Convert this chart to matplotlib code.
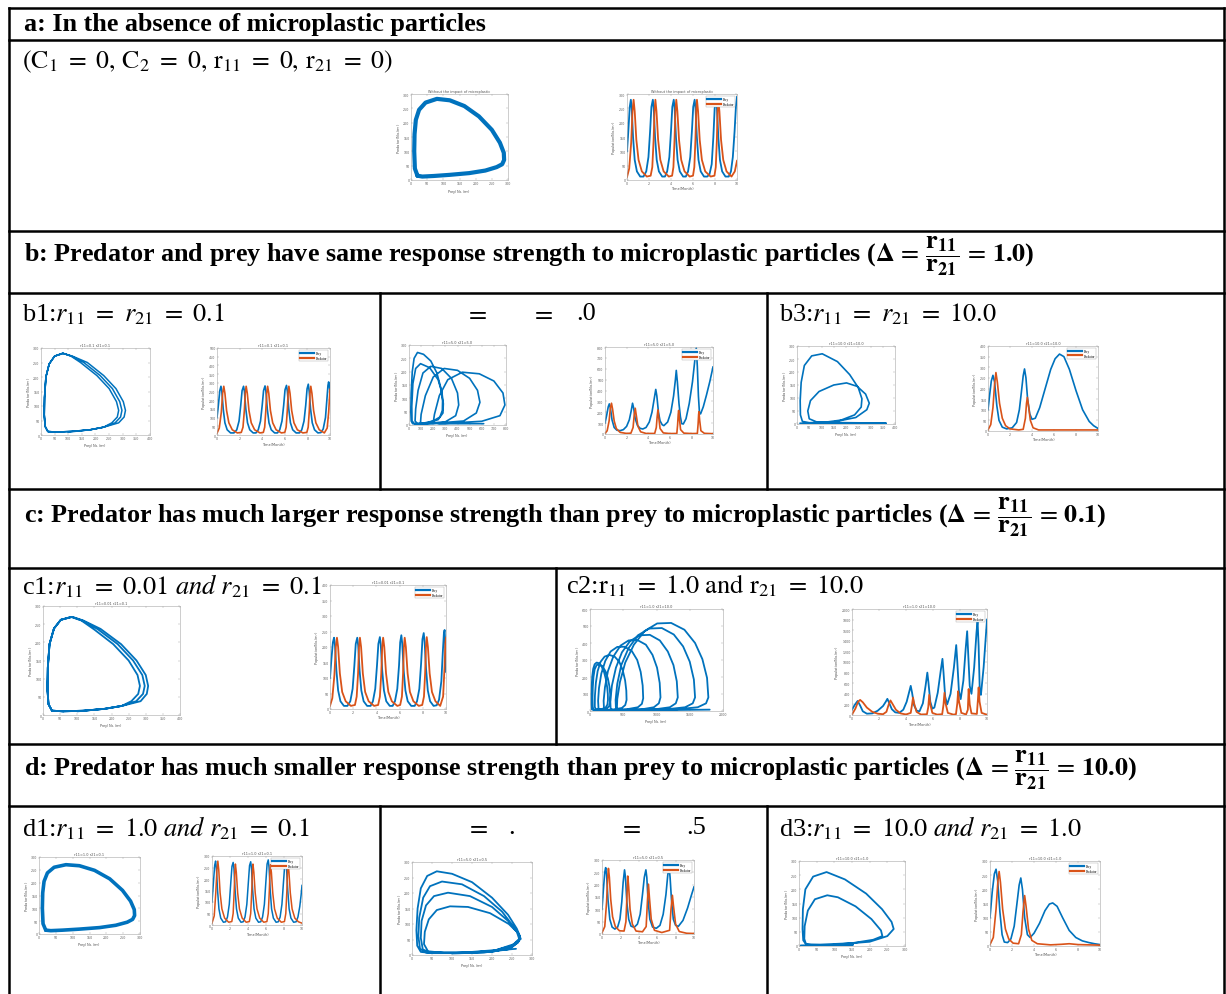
import numpy as np
import matplotlib
matplotlib.use("Agg")
import matplotlib.pyplot as plt
from matplotlib.lines import Line2D

plt.rcParams['mathtext.fontset'] = 'stix'
plt.rcParams['font.family'] = ['Liberation Serif', 'DejaVu Serif']

BLUE = '#0072BD'
ORANGE = '#D95319'

# ---------------- data ----------------
# a: no microplastics
a_phase = [(20,15),(12,40),(10,100),(11,160),(15,210),(25,245),(45,270),(80,283),(120,278),(165,258),
           (210,222),(250,175),(275,130),(287,95),(288,70),(282,55),(265,45),(230,33),(180,24),(120,18),
           (70,14),(35,12),(20,15)]
a_prey = [(0,100),(0.12,170),(0.25,255),(0.35,280),(0.43,250),(0.55,150),(0.7,70),(0.9,30),(1.2,12),(1.5,12),
          (1.75,30),(1.95,80),(2.1,170),(2.22,255),(2.35,280),(2.43,250),(2.55,150),(2.7,70),(2.9,30),(3.2,12),
          (3.45,12),(3.65,30),(3.85,80),(4.0,170),(4.12,255),(4.25,280),(4.33,250),(4.45,150),(4.6,70),(4.8,30),
          (5.1,12),(5.35,12),(5.55,30),(5.75,80),(5.9,170),(6.02,255),(6.15,280),(6.23,250),(6.35,150),(6.5,70),
          (6.7,30),(7.0,12),(7.3,12),(7.5,20),(7.7,55),(7.85,150),(7.97,250),(8.1,280),(8.18,250),(8.3,150),
          (8.45,70),(8.65,30),(8.95,12),(9.25,12),(9.45,30),(9.62,80),(9.78,170),(9.9,255),(10,290)]
a_pred = [(0,10),(0.2,40),(0.38,130),(0.5,240),(0.6,280),(0.7,240),(0.85,140),(1.05,70),(1.35,30),(1.8,12),
          (2.15,15),(2.3,45),(2.42,140),(2.5,240),(2.58,280),(2.68,240),(2.83,140),(3.03,70),(3.33,30),(3.8,12),
          (4.1,15),(4.22,45),(4.32,140),(4.4,240),(4.48,280),(4.58,240),(4.73,140),(4.93,70),(5.23,30),(5.7,12),
          (6.0,15),(6.12,45),(6.22,140),(6.29,240),(6.36,280),(6.46,240),(6.61,140),(6.81,70),(7.11,30),(7.6,12),
          (7.95,15),(8.07,45),(8.17,140),(8.23,240),(8.3,280),(8.4,240),(8.55,140),(8.75,70),(9.05,30),(9.5,12),
          (9.8,30),(10,67)]

# b1: r11 = r21 = 0.1
b1_phase = [(100,10),(180,18),(230,27),(260,42),(280,62),(285,85),(277,115),(250,160),(205,205),(145,250),
            (110,272),(80,282),(50,272),(30,245),(18,200),(13,130),(12,70),(15,30),(25,12),(60,10),
            (120,13),(180,18),(230,27),(272,42),(292,62),(297,85),(289,115),(262,160),(217,205),(157,250),
            (112,272),(80,282),(50,272),(30,245),(18,200),(13,130),(12,70),(15,30),(25,12),(60,10),
            (120,13),(180,18),(230,27),(285,42),(305,62),(310,85),(302,115),(275,160),(230,205),(170,250),
            (115,272),(82,281),(50,272),(30,245),(18,200),(13,130),(12,70),(15,30),(25,12),(60,10)]
b1_prey = [(0,100),(0.12,170),(0.25,255),(0.35,280),(0.43,250),(0.55,150),(0.7,70),(0.9,30),(1.2,12),(1.5,12),
           (1.75,30),(1.95,80),(2.1,170),(2.22,255),(2.35,280),(2.43,250),(2.55,150),(2.7,70),(2.9,30),(3.2,12),
           (3.45,12),(3.65,30),(3.85,80),(4.0,170),(4.12,255),(4.25,282),(4.33,250),(4.45,150),(4.6,70),(4.8,30),
           (5.1,12),(5.35,12),(5.55,30),(5.75,80),(5.9,170),(6.02,260),(6.15,285),(6.23,250),(6.35,150),(6.5,70),
           (6.7,30),(7.0,12),(7.3,12),(7.5,30),(7.7,80),(7.85,170),(7.97,265),(8.08,292),(8.16,250),(8.28,150),
           (8.43,70),(8.63,30),(8.93,12),(9.2,14),(9.4,35),(9.6,100),(9.72,200),(9.82,285),(9.88,305),(9.95,280),
           (10,250)]
b1_pred = [(0,10),(0.2,40),(0.38,130),(0.5,240),(0.6,280),(0.7,240),(0.85,140),(1.05,70),(1.35,30),(1.8,12),
           (2.15,15),(2.3,45),(2.42,140),(2.5,240),(2.58,280),(2.68,240),(2.83,140),(3.03,70),(3.33,30),(3.8,12),
           (4.1,15),(4.22,45),(4.32,140),(4.4,240),(4.48,280),(4.58,240),(4.73,140),(4.93,70),(5.23,30),(5.7,12),
           (6.0,15),(6.12,45),(6.22,140),(6.29,240),(6.36,280),(6.46,240),(6.61,140),(6.81,70),(7.11,30),(7.6,12),
           (7.95,15),(8.07,45),(8.17,140),(8.23,240),(8.3,280),(8.4,240),(8.55,140),(8.75,70),(9.05,30),(9.5,12),
           (9.75,40),(9.88,130),(10,262)]

# b2: r11 = r21 = 5.0
b2_phase = [(100,5),(200,15),(255,30),(275,55),(277,90),(262,140),(230,195),(180,240),(120,265),(70,272),
            (42,250),(27,200),(18,120),(15,50),(18,15),(30,5),(60,4),(150,8),(240,20),(280,45),
            (283,80),(272,120),(240,170),(170,215),(95,230),(55,212),(32,155),(23,70),(25,15),(45,5),
            (150,6),(300,12),(385,35),(410,75),(400,120),(350,175),(270,212),(180,220),(115,195),(75,130),
            (55,60),(50,15),(70,5),(200,6),(450,15),(555,45),(585,85),(565,130),(500,175),(400,205),
            (290,212),(200,180),(135,110),(100,40),(95,10),(120,5),(300,6),(600,14),(750,35),(791,75),
            (775,120),(700,165),(580,192),(440,198),(320,170),(250,110),(210,40),(200,10),(250,5),(450,5),
            (616,5)]
b2_prey = [(0,100),(0.15,170),(0.3,250),(0.4,277),(0.5,240),(0.65,130),(0.85,60),(1.1,35),(1.4,31),(1.7,40),
           (2.0,70),(2.25,130),(2.42,210),(2.55,283),(2.65,240),(2.8,140),(3.0,80),(3.25,52),(3.5,46),(3.8,60),
           (4.1,110),(4.35,200),(4.55,320),(4.7,410),(4.8,350),(4.95,200),(5.1,120),(5.3,85),(5.45,77),(5.8,110),
           (6.1,200),(6.35,350),(6.52,500),(6.6,585),(6.7,480),(6.85,280),(6.98,160),(7.1,95),(7.25,92),(7.5,140),
           (7.8,280),(8.1,480),(8.32,680),(8.45,791),(8.55,620),(8.65,350),(8.75,190),(8.85,185),(9.1,250),
           (9.4,360),(9.7,480),(10,616)]
b2_pred = [(0,5),(0.2,30),(0.38,120),(0.5,240),(0.6,283),(0.7,230),(0.85,120),(1.05,50),(1.4,15),(2.0,5),
           (2.4,8),(2.6,60),(2.7,170),(2.8,237),(2.9,170),(3.05,70),(3.3,20),(3.8,5),(4.6,5),(4.75,60),
           (4.83,160),(4.9,222),(4.98,150),(5.1,50),(5.4,10),(6.0,4),(6.65,5),(6.72,80),(6.78,180),(6.82,217),
           (6.88,150),(7.0,40),(7.3,8),(8.0,4),(8.55,5),(8.62,90),(8.67,180),(8.7,205),(8.76,130),(8.88,30),
           (9.2,6),(10,3)]

# b3: r11 = r21 = 10.0
b3_phase = [(100,5),(180,15),(235,35),(262,65),(265,97),(250,140),(215,190),(165,240),(103,270),(60,262),
            (30,225),(17,160),(13,90),(14,35),(22,10),(50,5),(150,8),(240,25),(285,55),(295,80),
            (280,115),(245,145),(202,158),(150,150),(90,125),(55,90),(44,50),(50,20),(80,8),(110,6),
            (200,5),(300,4),(364,3),(300,3),(200,3),(100,3),(30,3),(12,3)]
b3_prey = [(0,100),(0.15,170),(0.3,235),(0.45,262),(0.6,230),(0.8,120),(1.0,50),(1.3,18),(1.7,10),(2.2,15),
           (2.6,40),(2.85,100),(3.05,190),(3.2,260),(3.32,292),(3.45,250),(3.6,150),(3.8,80),(4.0,55),(4.3,60),
           (4.7,110),(5.2,200),(5.7,290),(6.1,340),(6.5,362),(6.9,350),(7.4,290),(8.0,190),(8.6,100),(9.2,45),
           (9.6,25),(10,12)]
b3_pred = [(0,5),(0.25,30),(0.45,110),(0.6,220),(0.72,275),(0.85,230),(1.05,130),(1.3,60),(1.6,25),(2.0,10),
           (2.8,5),(3.2,8),(3.4,60),(3.5,130),(3.58,158),(3.68,120),(3.85,50),(4.1,15),(4.6,5),(10,5)]

# c1: r11 = 0.01, r21 = 0.1
c1_phase = [(100,10),(180,17),(230,25),(258,38),(278,58),(283,80),(276,110),(250,150),(205,195),(150,235),
            (112,260),(82,270),(52,262),(32,238),(19,195),(14,130),(13,70),(16,30),(26,12),(60,10),
            (120,12),(180,17),(230,25),(272,38),(292,58),(297,80),(290,110),(263,150),(218,195),(160,236),
            (115,260),(84,270),(52,262),(32,238),(19,195),(14,130),(13,70),(16,30),(26,12),(60,10),
            (120,12),(180,17),(230,25),(285,38),(303,58),(307,80),(300,110),(273,150),(228,195),(168,237),
            (118,260),(86,270),(52,262),(32,238),(19,195),(14,130),(13,70),(16,30),(26,12),(60,10)]
c1_prey = [(0,100),(0.12,160),(0.25,215),(0.35,230),(0.43,205),(0.55,125),(0.7,60),(0.9,25),(1.2,10),(1.5,10),
           (1.75,25),(1.95,65),(2.1,140),(2.22,210),(2.35,230),(2.43,205),(2.55,125),(2.7,60),(2.9,25),(3.2,10),
           (3.5,10),(3.7,25),(3.9,65),(4.05,140),(4.17,210),(4.3,232),(4.38,205),(4.5,125),(4.65,60),(4.85,25),
           (5.15,10),(5.4,10),(5.6,25),(5.8,65),(5.95,140),(6.05,215),(6.15,238),(6.23,210),(6.35,125),(6.5,60),
           (6.7,25),(7.0,10),(7.3,10),(7.5,25),(7.7,65),(7.85,145),(7.97,225),(8.08,245),(8.16,215),(8.28,130),
           (8.43,60),(8.63,25),(8.93,10),(9.2,12),(9.4,30),(9.6,90),(9.72,180),(9.82,245),(9.88,255),(9.95,200),
           (10,120)]
c1_pred = [(0,10),(0.2,35),(0.38,110),(0.5,200),(0.6,230),(0.7,200),(0.85,115),(1.05,55),(1.35,25),(1.8,10),
           (2.15,13),(2.3,40),(2.42,115),(2.5,200),(2.58,230),(2.68,200),(2.83,115),(3.03,55),(3.33,25),(3.8,10),
           (4.15,13),(4.3,40),(4.42,115),(4.5,200),(4.58,230),(4.68,200),(4.83,115),(5.03,55),(5.33,25),(5.8,10),
           (6.05,13),(6.2,40),(6.3,115),(6.37,200),(6.44,230),(6.54,200),(6.69,115),(6.89,55),(7.19,25),(7.65,10),
           (7.95,13),(8.1,40),(8.2,115),(8.27,200),(8.34,232),(8.44,200),(8.59,115),(8.79,55),(9.09,25),(9.5,10),
           (9.75,40),(9.88,140),(9.95,215),(10,230)]

# c2: r11 = 1.0, r21 = 10.0 (eight growing arches)
c2_phase = [(100,10),(180,12),(235,20),(262,38),(270,65),(268,100),(258,140),(240,185),(212,228),(175,262),
            (135,281),(100,285),(70,275),(48,248),(34,205),(26,150),(22,90),(22,40),(28,10),
            (60,5),(160,6),(250,12),(290,30),(305,60),(303,100),(292,145),(270,190),(235,232),(190,262),
            (140,275),(100,270),(70,245),(52,200),(42,140),(38,80),(40,25),(55,6),
            (150,5),(350,8),(480,18),(530,35),(550,65),(546,120),(528,180),(492,240),(440,290),(370,320),
            (290,330),(220,320),(160,290),(115,235),(88,165),(74,90),(72,25),(90,6),
            (250,6),(550,10),(720,22),(780,42),(800,75),(792,150),(762,230),(710,300),(630,352),(520,378),
            (410,377),(310,350),(230,295),(170,220),(135,135),(122,60),(128,15),(160,6),
            (400,6),(780,10),(960,22),(1035,45),(1060,80),(1048,165),(1008,255),(940,330),(840,390),(710,418),
            (580,415),(460,385),(350,320),(270,235),(225,140),(205,60),(210,15),(240,6),
            (550,6),(980,10),(1200,22),(1290,45),(1320,80),(1305,175),(1255,270),(1170,350),(1050,415),(900,448),
            (740,445),(600,410),(480,345),(390,255),(330,150),(305,60),(310,15),(340,6),
            (650,6),(1150,10),(1430,22),(1545,45),(1580,80),(1562,185),(1500,290),(1400,380),(1260,450),(1080,488),
            (890,485),(720,445),(580,370),(470,270),(410,160),(385,65),(390,15),(420,6),
            (750,6),(1300,10),(1620,22),(1745,45),(1780,80),(1760,195),(1690,305),(1580,400),(1420,478),(1220,518),
            (1010,515),(820,470),(660,390),(530,285),(450,170),(410,70),(405,18),(430,6),
            (800,5),(1300,6),(1800,8)]
c2_prey = [(0,100),(0.2,190),(0.42,265),(0.6,180),(0.8,70),(1.1,25),(1.5,30),(1.9,80),(2.3,170),(2.5,250),
           (2.62,305),(2.75,230),(2.95,110),(3.2,50),(3.5,40),(3.8,100),(4.05,250),(4.25,450),(4.35,550),(4.45,420),
           (4.6,180),(4.8,80),(5.0,70),(5.25,220),(5.45,550),(5.58,800),(5.66,620),(5.8,250),(5.95,120),(6.1,140),
           (6.35,420),(6.58,850),(6.7,1060),(6.78,800),(6.9,350),(7.05,200),(7.3,400),(7.55,900),(7.72,1320),(7.8,1000),
           (7.92,450),(8.05,300),(8.25,650),(8.42,1250),(8.53,1580),(8.6,1200),(8.72,550),(8.85,400),(9.05,900),
           (9.22,1550),(9.3,1780),(9.38,1300),(9.47,400),(9.55,380),(9.75,900),(10,1800)]
c2_pred = [(0,10),(0.25,120),(0.45,250),(0.6,285),(0.8,240),(1.1,140),(1.5,60),(1.9,25),(2.3,15),(2.55,60),
           (2.72,200),(2.85,275),(3.0,210),(3.25,100),(3.6,30),(4.0,10),(4.35,40),(4.45,200),(4.52,330),(4.6,220),
           (4.78,60),(5.1,10),(5.55,15),(5.65,150),(5.72,380),(5.8,200),(5.95,40),(6.3,8),(6.68,15),(6.78,200),
           (6.85,420),(6.93,220),(7.1,40),(7.5,8),(7.7,15),(7.8,220),(7.86,450),(7.93,250),(8.1,40),(8.45,10),
           (8.58,100),(8.64,490),(8.72,200),(8.85,30),(9.25,20),(9.33,300),(9.38,520),(9.45,250),(9.6,40),(10,5)]

# d1: r11 = 1.0, r21 = 0.1
d1_phase = [(20,15),(12,40),(10,100),(11,160),(15,205),(25,238),(45,260),(80,270),(120,266),(165,248),
            (210,215),(248,170),(272,128),(283,95),(284,72),(278,57),(262,46),(228,34),(180,25),(120,19),
            (70,15),(35,13),(20,15)]
d1_prey = [(0,100),(0.15,180),(0.3,260),(0.4,278),(0.49,245),(0.62,150),(0.77,70),(0.97,30),(1.27,12),(1.52,14),
           (1.72,35),(1.92,90),(2.08,180),(2.22,255),(2.35,272),(2.44,245),(2.57,150),(2.72,70),(2.92,30),(3.22,12),
           (3.47,14),(3.67,35),(3.87,90),(4.03,180),(4.17,258),(4.3,275),(4.39,245),(4.52,150),(4.67,70),(4.87,30),
           (5.17,12),(5.42,14),(5.62,35),(5.82,90),(5.98,185),(6.12,265),(6.25,283),(6.34,250),(6.47,150),(6.62,70),
           (6.82,30),(7.12,12),(7.37,14),(7.57,35),(7.77,90),(7.93,180),(8.07,255),(8.2,270),(8.29,240),(8.42,150),
           (8.57,70),(8.77,30),(9.07,12),(9.35,14),(9.55,35),(9.75,80),(9.9,130),(10,172)]
d1_pred = [(0,8),(0.25,40),(0.42,140),(0.55,240),(0.65,278),(0.75,240),(0.9,140),(1.1,70),(1.4,30),(1.85,12),
           (2.2,15),(2.35,50),(2.47,150),(2.54,235),(2.6,265),(2.7,230),(2.85,140),(3.05,70),(3.35,30),(3.8,12),
           (4.15,15),(4.3,50),(4.42,150),(4.49,235),(4.55,265),(4.65,230),(4.8,140),(5.0,70),(5.3,30),(5.75,12),
           (6.1,15),(6.25,50),(6.37,150),(6.44,232),(6.5,262),(6.6,228),(6.75,140),(6.95,70),(7.25,30),(7.7,12),
           (8.05,15),(8.2,50),(8.32,150),(8.39,238),(8.45,268),(8.55,230),(8.7,140),(8.9,70),(9.2,30),(9.6,14),
           (10,8)]

# d2: r11 = 5.0, r21 = 0.5
d2_phase = [(100,5),(180,8),(240,18),(265,40),(270,60),(262,85),(240,130),(200,185),(150,235),(100,262),
            (62,270),(38,255),(22,215),(14,150),(11,80),(13,30),(22,10),(50,6),(120,6),(200,10),
            (250,25),(268,45),(268,65),(255,90),(225,140),(180,190),(125,228),(75,237),(45,222),(28,185),
            (18,120),(16,60),(20,20),(35,8),(110,7),(200,12),(250,30),(268,52),(262,75),(240,110),
            (200,155),(145,190),(90,201),(55,190),(35,160),(24,110),(22,55),(27,18),(45,8),(130,8),
            (210,16),(255,35),(272,52),(266,70),(242,100),(195,135),(140,155),(95,157),(62,145),(42,115),
            (32,75),(30,35),(40,12),(80,7),(150,8),(260,20)]
d2_prey = [(0,100),(0.15,180),(0.3,250),(0.4,269),(0.5,240),(0.65,140),(0.85,60),(1.1,28),(1.4,20),(1.7,28),
           (1.95,60),(2.15,130),(2.3,210),(2.45,260),(2.55,230),(2.7,130),(2.9,60),(3.15,32),(3.5,27),(3.85,40),
           (4.15,80),(4.4,160),(4.6,230),(4.77,260),(4.87,230),(5.0,140),(5.2,60),(5.5,28),(5.9,23),(6.3,35),
           (6.65,80),(6.95,160),(7.15,240),(7.3,269),(7.4,230),(7.55,140),(7.75,60),(8.0,35),(8.3,31),(8.8,55),
           (9.3,105),(9.7,155),(10,191)]
d2_pred = [(0,5),(0.3,30),(0.5,130),(0.62,230),(0.7,266),(0.8,230),(0.95,140),(1.15,70),(1.45,30),(1.9,13),
           (2.4,12),(2.6,50),(2.72,160),(2.8,235),(2.9,190),(3.05,100),(3.3,40),(3.7,12),(4.4,9),(4.8,30),
           (4.95,140),(5.05,202),(5.15,150),(5.35,60),(5.7,15),(6.5,6),(7.35,15),(7.5,100),(7.65,157),(7.78,110),
           (8.0,40),(8.4,10),(9.2,3),(10,2)]

# d3: r11 = 10.0, r21 = 1.0
d3_phase = [(100,5),(200,15),(250,35),(268,60),(262,85),(235,130),(190,185),(130,235),(78,261),(40,245),
            (18,200),(11,130),(10,60),(12,20),(20,6),(60,5),(150,10),(210,22),(236,35),(232,55),
            (205,95),(160,140),(110,172),(80,179),(45,165),(25,125),(16,70),(15,25),(20,6),(40,3),
            (100,4),(153,5),(100,4),(40,3),(5,2)]
d3_prey = [(0,100),(0.2,190),(0.4,255),(0.55,271),(0.7,230),(0.9,120),(1.1,40),(1.3,14),(1.6,12),(1.9,25),
           (2.2,70),(2.45,150),(2.65,215),(2.8,240),(2.95,200),(3.15,100),(3.4,40),(3.65,30),(4.0,45),(4.5,80),
           (5.0,125),(5.4,148),(5.7,152),(6.1,140),(6.6,100),(7.2,55),(7.8,30),(8.4,18),(9.0,12),(9.5,8),(10,5)]
d3_pred = [(0,5),(0.3,30),(0.55,130),(0.72,230),(0.83,263),(0.95,225),(1.15,130),(1.4,60),(1.7,25),(2.1,10),
           (2.6,8),(2.85,40),(3.0,120),(3.15,178),(3.28,140),(3.5,60),(3.8,20),(4.3,8),(5.5,4),(6.5,6),
           (7.2,8),(8.0,5),(10,3)]

# titles of the small panels
titles = {'a': 'Without the impact of microplastic', 'b1': 'r11=0.1 r21=0.1', 'b2': 'r11=5.0 r21=5.0',
          'b3': 'r11=10.0 r21=10.0', 'c1': 'r11=0.01 r21=0.1', 'c2': 'r11=1.0 r21=10.0',
          'd1': 'r11=1.0 r21=0.1', 'd2': 'r11=5.0 r21=0.5', 'd3': 'r11=10.0 r21=1.0'}

# ---------------- figure ----------------
W, H = 1226, 995
fig = plt.figure(figsize=(W/100, H/100), dpi=100)
fig.patch.set_facecolor('white')

def fx(x): return x / W
def fy(y): return 1 - y / H

def hline(y, x0, x1, lw=1.8):
    fig.add_artist(Line2D([fx(x0), fx(x1)], [fy(y), fy(y)], color='black', lw=lw, solid_capstyle='projecting'))

def vline(x, y0, y1, lw=1.8):
    fig.add_artist(Line2D([fx(x), fx(x)], [fy(y0), fy(y1)], color='black', lw=lw, solid_capstyle='projecting'))

# table grid
for y in [9, 41, 232, 294, 490, 569, 745, 807]:
    hline(y, 9, 1224)
vline(9, 9, 995)
vline(1224, 9, 995)
for x in [380, 767]:
    vline(x, 294, 490)
    vline(x, 807, 995)
vline(556, 569, 745)

# text
HDR = dict(fontsize=18.8, fontweight='bold', family=['Liberation Serif'], va='center', ha='left')
SUB = dict(fontsize=19, va='center', ha='left')
E = r'\ =\ '
EH = r'\,=\,'
fig.text(fx(24), fy(25), 'a: In the absence of microplastic particles', **HDR)
fig.text(fx(22), fy(62), r'$(\mathrm{C}_1' + E + r'0,\,\mathrm{C}_2' + E + r'0,\,\mathrm{r}_{11}' + E +
         r'0,\,\mathrm{r}_{21}' + E + r'0)$', fontsize=18.5, va='center', ha='left')
frac = r'$\mathbf{\Delta}' + EH + r'\mathbf{\dfrac{r_{11}}{r_{21}}}' + EH + r'\mathbf{%s}$'
fig.text(fx(24), fy(256), 'b: Predator and prey have same response strength to microplastic particles ('
         + frac % '1.0' + ')', **HDR)
fig.text(fx(24), fy(517), 'c: Predator has much larger response strength than prey to microplastic particles ('
         + frac % '0.1' + ')', **HDR)
fig.text(fx(24), fy(770), 'd: Predator has much smaller response strength than prey to microplastic particles ('
         + frac % '10.0' + ')', **HDR)

fig.text(fx(22), fy(314), 'b1:$r_{11}' + E + 'r_{21}' + E + '0.1$', **SUB)
fig.text(fx(476), fy(314), r'$=$', fontsize=19, va='center', ha='center')
fig.text(fx(542), fy(314), r'$=$', fontsize=19, va='center', ha='center')
fig.text(fx(586), fy(314), '.0', fontsize=19, va='center', ha='center')
fig.text(fx(779), fy(314), 'b3:$r_{11}' + E + 'r_{21}' + E + '10.0$', **SUB)
fig.text(fx(22), fy(586), 'c1:$r_{11}' + E + r'0.01\ and\ r_{21}' + E + '0.1$', **SUB)
fig.text(fx(566), fy(586), r'c2:$\mathrm{r}_{11}' + E + r'1.0\ \mathrm{and}\ \mathrm{r}_{21}' + E + '10.0$', **SUB)
fig.text(fx(22), fy(828), 'd1:$r_{11}' + E + r'1.0\ and\ r_{21}' + E + '0.1$', **SUB)
fig.text(fx(477), fy(828), r'$=$', fontsize=19, va='center', ha='center')
fig.text(fx(512), fy(828), '.', fontsize=19, va='center', ha='center')
fig.text(fx(630), fy(828), r'$=$', fontsize=19, va='center', ha='center')
fig.text(fx(696), fy(828), '.5', fontsize=19, va='center', ha='center')
fig.text(fx(779), fy(828), 'd3:$r_{11}' + E + r'10.0\ and\ r_{21}' + E + '1.0$', **SUB)

# ---------------- small panels ----------------
def ax_at(l, t, r, b):
    return fig.add_axes([fx(l), fy(b), fx(r) - fx(l), (b - t) / H])

def style(ax, title, xlabel, ylabel):
    for s in ax.spines.values():
        s.set_linewidth(0.4)
        s.set_color('#a8a8a8')
    ax.tick_params(direction='in', length=1.2, width=0.3, labelsize=2.3, pad=1.0,
                   colors='#a0a0a0', labelcolor='#606060', top=True, right=True)
    ax.set_title(title, fontsize=2.5, pad=1.2, color='#505050', family='DejaVu Sans')
    ax.set_xlabel(xlabel, fontsize=2.5, labelpad=0.8, color='#505050', family='DejaVu Sans')
    ax.set_ylabel(ylabel, fontsize=2.5, labelpad=0.8, color='#505050', family='DejaVu Sans')
    for lab in ax.get_xticklabels() + ax.get_yticklabels():
        lab.set_family('DejaVu Sans')

def phase(box, data, xmax, ymax, xstep, ystep, title, lw=1.1):
    ax = ax_at(*box)
    xy = np.array(data, dtype=float)
    ax.plot(xy[:, 0], xy[:, 1], color=BLUE, lw=lw, solid_joinstyle='round', solid_capstyle='round')
    ax.set_xlim(0, xmax)
    ax.set_ylim(0, ymax)
    ax.set_xticks(np.arange(0, xmax + 1, xstep))
    ax.set_yticks(np.arange(0, ymax + 1, ystep))
    style(ax, title, r'Prey(No./m$^3$)', r'Predator(No./m$^3$)')
    return ax

def series(box, prey, pred, ymax, ystep, title, lw=1.2):
    ax = ax_at(*box)
    p = np.array(prey, dtype=float)
    q = np.array(pred, dtype=float)
    ax.plot(p[:, 0], p[:, 1], color=BLUE, lw=lw, label='Prey', solid_joinstyle='round')
    ax.plot(q[:, 0], q[:, 1], color=ORANGE, lw=lw, label='Predator', solid_joinstyle='round')
    ax.set_xlim(0, 10)
    ax.set_ylim(0, ymax)
    ax.set_xticks(np.arange(0, 11, 2))
    ax.set_yticks(np.arange(0, ymax + 1, ystep))
    style(ax, title, 'Time(Month)', r'Population(No./m$^3$)')
    leg = ax.legend(loc='upper right', fontsize=2.4, frameon=True, fancybox=False, framealpha=1,
                    edgecolor='#a8a8a8', borderpad=0.35, labelspacing=0.25, handlelength=4.0,
                    handletextpad=0.6, borderaxespad=0.5)
    leg.get_frame().set_linewidth(0.3)
    for l in leg.get_lines():
        l.set_linewidth(1.6)
    return ax

# row a
phase((411, 95, 508, 181), a_phase, 300, 300, 50, 50, titles['a'], lw=3.0)
series((627, 95, 737, 181), a_prey, a_pred, 300, 50, titles['a'], lw=1.3)

# row b
phase((41, 349, 150, 436), b1_phase, 400, 300, 50, 50, titles['b1'], lw=1.1)
series((217, 349, 330, 436), b1_prey, b1_pred, 500, 50, titles['b1'], lw=1.2)
phase((409, 346, 506, 426), b2_phase, 800, 300, 100, 50, titles['b2'], lw=1.2)
series((605, 348, 713, 435), b2_prey, b2_pred, 800, 100, titles['b2'], lw=1.2)
phase((797, 347, 895, 425), b3_phase, 400, 300, 50, 50, titles['b3'], lw=1.2)
series((988, 347, 1098, 432), b3_prey, b3_pred, 400, 50, titles['b3'], lw=1.2)

# row c
phase((43, 607, 180, 716), c1_phase, 400, 300, 50, 50, titles['c1'], lw=1.3)
series((330, 586, 446, 710), c1_prey, c1_pred, 400, 50, titles['c1'], lw=1.3)
phase((590, 610, 723, 712), c2_phase, 2000, 600, 500, 100, titles['c2'], lw=1.3)
series((852, 610, 987, 716), c2_prey, c2_pred, 2000, 200, titles['c2'], lw=1.3)

# row d
phase((39, 858, 140, 935), d1_phase, 300, 300, 50, 50, titles['d1'], lw=2.6)
series((212, 857, 302, 926), d1_prey, d1_pred, 300, 50, titles['d1'], lw=1.1)
phase((412, 863, 532, 956), d2_phase, 300, 300, 50, 50, titles['d2'], lw=1.3)
series((602, 861, 694, 935), d2_prey, d2_pred, 300, 50, titles['d2'], lw=1.2)
phase((799, 862, 905, 947), d3_phase, 300, 300, 50, 50, titles['d3'], lw=1.3)
series((990, 862, 1100, 947), d3_prey, d3_pred, 300, 50, titles['d3'], lw=1.2)

fig.savefig('out.png', dpi=100, facecolor='white')
